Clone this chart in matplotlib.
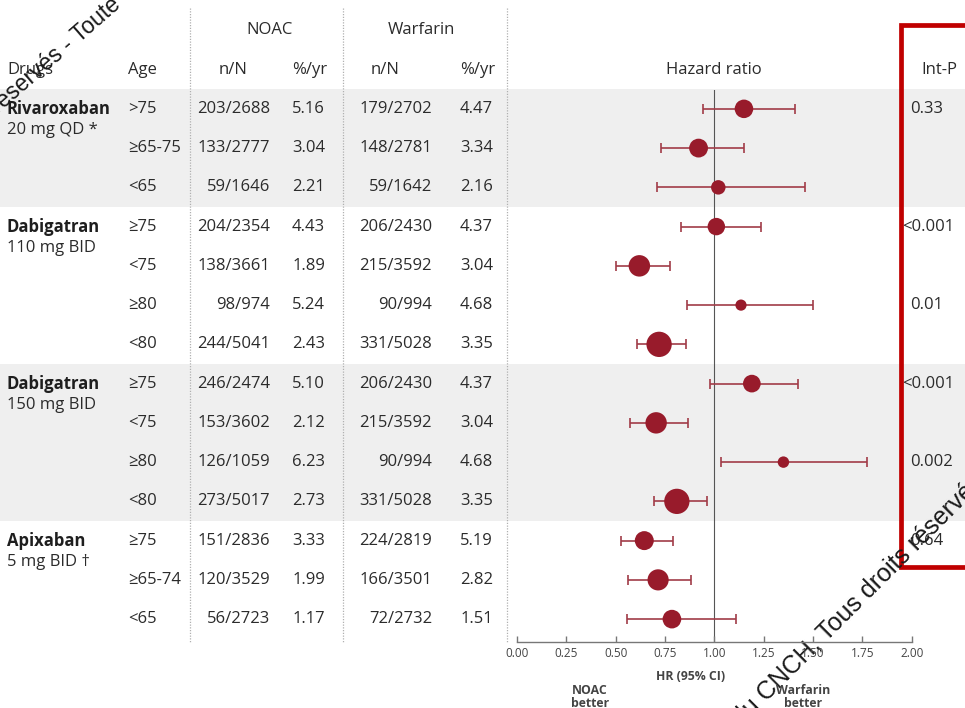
import matplotlib
matplotlib.use("Agg")
import matplotlib.pyplot as plt
from matplotlib import transforms
from matplotlib.patches import Rectangle

plt.rcParams['font.family'] = ['Open Sans', 'DejaVu Sans']

# data
drugs = ['Rivaroxaban', 'Dabigatran', 'Dabigatran', 'Apixaban']
doses = ['20 mg QD *', '110 mg BID', '150 mg BID', '5 mg BID †']
group_sizes = [3, 4, 4, 3]
ages = ['>75', '≥65-75', '<65', '≥75', '<75', '≥80', '<80',
        '≥75', '<75', '≥80', '<80', '≥75', '≥65-74', '<65']
noac_nN = ['203/2688', '133/2777', '59/1646', '204/2354', '138/3661', '98/974', '244/5041',
           '246/2474', '153/3602', '126/1059', '273/5017', '151/2836', '120/3529', '56/2723']
noac_rate = ['5.16', '3.04', '2.21', '4.43', '1.89', '5.24', '2.43',
             '5.10', '2.12', '6.23', '2.73', '3.33', '1.99', '1.17']
warf_nN = ['179/2702', '148/2781', '59/1642', '206/2430', '215/3592', '90/994', '331/5028',
           '206/2430', '215/3592', '90/994', '331/5028', '224/2819', '166/3501', '72/2732']
warf_rate = ['4.47', '3.34', '2.16', '4.37', '3.04', '4.68', '3.35',
             '4.37', '3.04', '4.68', '3.35', '5.19', '2.82', '1.51']
hr = [1.15, 0.92, 1.02, 1.01, 0.62, 1.135, 0.72, 1.19, 0.705, 1.35, 0.81, 0.645, 0.715, 0.785]
hr_lo = [0.94, 0.73, 0.71, 0.83, 0.50, 0.86, 0.61, 0.98, 0.575, 1.035, 0.695, 0.525, 0.56, 0.555]
hr_hi = [1.41, 1.15, 1.46, 1.235, 0.775, 1.50, 0.855, 1.425, 0.865, 1.775, 0.965, 0.79, 0.88, 1.11]
int_p = ['0.33', '', '', '<0.001', '', '0.01', '', '<0.001', '', '0.002', '', '0.64', '', '']
hr_ticks = [0.0, 0.25, 0.5, 0.75, 1.0, 1.25, 1.5, 1.75, 2.0]

W, H = 965, 708
TXT = '#2b2b2b'
RED = '#981b2b'

fig = plt.figure(figsize=(W / 100, H / 100), dpi=100)

# background axes in pixel units for the table part
bg = fig.add_axes([0, 0, 1, 1])
bg.set_xlim(0, W)
bg.set_ylim(H, 0)
bg.axis('off')

# forest plot axes
x0, x1 = 517, 911.7
top, bot = 90, 641.5
ax = fig.add_axes([x0 / W, 1 - bot / H, (x1 - x0) / W, (bot - top) / H])
ax.patch.set_alpha(0)
n_rows = len(ages)
ax.set_xlim(0, 2)
ax.set_ylim(13.57, -0.48)
rows = list(range(n_rows))

row_tr = transforms.blended_transform_factory(bg.transData, ax.transData)

# grey bands behind Rivaroxaban and Dabigatran 150
start = 0
for g, size in enumerate(group_sizes):
    if g % 2 == 0:
        bg.add_patch(Rectangle((0, start - 0.5), W, size, transform=row_tr,
                               facecolor='#efefef', edgecolor='none', zorder=0))
    start += size

# dotted column separators
bg.vlines([190, 343, 507], 8, 643, colors='#b0b0b0', linestyles=(0, (1, 1.2)), lw=0.9, zorder=1)

# headers
fs = 12
bg.text(270, 30, 'NOAC', ha='center', va='center', fontsize=fs, color=TXT)
bg.text(421, 30, 'Warfarin', ha='center', va='center', fontsize=fs, color=TXT)
bg.text(7, 70, 'Drugs', ha='left', va='center', fontsize=fs, color=TXT)
bg.text(128, 70, 'Age', ha='left', va='center', fontsize=fs, color=TXT)
bg.text(233, 70, 'n/N', ha='center', va='center', fontsize=fs, color=TXT)
bg.text(310, 70, '%/yr', ha='center', va='center', fontsize=fs, color=TXT)
bg.text(385, 70, 'n/N', ha='center', va='center', fontsize=fs, color=TXT)
bg.text(478, 70, '%/yr', ha='center', va='center', fontsize=fs, color=TXT)
bg.text(714, 70, 'Hazard ratio', ha='center', va='center', fontsize=fs, color=TXT)
bg.text(921, 70, 'Int-P', ha='left', va='center', fontsize=fs, color=TXT)

# drug names
start = 0
for name, dose, size in zip(drugs, doses, group_sizes):
    bg.text(7, start, name, transform=row_tr, ha='left', va='center',
            fontsize=fs, fontweight='bold', color='#1e1e1e')
    bg.text(7, start + 0.55, dose, transform=row_tr, ha='left', va='center',
            fontsize=fs, color=TXT)
    start += size

# table rows
for r in rows:
    bg.text(128, r, ages[r], transform=row_tr, ha='left', va='center', fontsize=fs, color=TXT)
    bg.text(270, r, noac_nN[r], transform=row_tr, ha='right', va='center', fontsize=fs, color=TXT)
    bg.text(325, r, noac_rate[r], transform=row_tr, ha='right', va='center', fontsize=fs, color=TXT)
    bg.text(432, r, warf_nN[r], transform=row_tr, ha='right', va='center', fontsize=fs, color=TXT)
    bg.text(493, r, warf_rate[r], transform=row_tr, ha='right', va='center', fontsize=fs, color=TXT)
    if int_p[r]:
        xp = 902 if int_p[r].startswith('<') else 910
        bg.text(xp, r, int_p[r], transform=row_tr, ha='left', va='center', fontsize=fs, color=TXT)

# red box around Int-P
bg.plot([980, 901, 901, 980], [25, 25, 567, 567], color='#c00000', lw=3.4,
        solid_joinstyle='miter', zorder=3)

# forest plot
ax.axvline(1.0, color='#555555', lw=0.8, zorder=1)
err_lo = [h - l for h, l in zip(hr, hr_lo)]
err_hi = [u - h for h, u in zip(hr, hr_hi)]
ax.errorbar(hr, rows, xerr=[err_lo, err_hi], fmt='none', ecolor='#a13c48',
            elinewidth=1.2, capsize=3.5, capthick=1.2, zorder=2)
total_n = [int(a.split('/')[1]) + int(b.split('/')[1]) for a, b in zip(noac_nN, warf_nN)]
ax.scatter(hr, rows, s=[n * 0.033 for n in total_n], color=RED, edgecolors='none',
           zorder=3, clip_on=False)

for side in ['top', 'right', 'left']:
    ax.spines[side].set_visible(False)
ax.spines['bottom'].set_color('#777777')
ax.spines['bottom'].set_linewidth(1.0)
ax.set_yticks([])
ax.set_xticks(hr_ticks)
ax.set_xticklabels([f'{t:.2f}' for t in hr_ticks])
ax.tick_params(axis='x', direction='in', length=4, width=1.0, color='#777777',
               labelsize=8.5, labelcolor='#444444', pad=4)

lab_tr = transforms.blended_transform_factory(ax.transData, bg.transData)
ax.text(0.877, 677, 'HR (95% CI)', transform=lab_tr, ha='center', va='center',
        fontsize=8.8, fontweight='bold', color='#444444')
ax.text(0.37, 697, 'NOAC\nbetter', transform=lab_tr, ha='center', va='center',
        fontsize=8.8, fontweight='bold', color='#444444', linespacing=0.95)
ax.text(1.45, 697, 'Warfarin\nbetter', transform=lab_tr, ha='center', va='center',
        fontsize=8.8, fontweight='bold', color='#444444', linespacing=0.95)

# watermark fragments
bg.text(-2, 114, 'réservés - Toute', rotation=41, rotation_mode='anchor',
        ha='left', va='baseline', fontsize=16.5, color='#1a1a1a',
        family=['Liberation Sans', 'DejaVu Sans'], zorder=5, clip_on=True)
bg.text(742, 727, 'du CNCH, Tous droits réservés', rotation=45, rotation_mode='anchor',
        ha='left', va='baseline', fontsize=18, color='#1a1a1a',
        family=['Liberation Sans', 'DejaVu Sans'], zorder=5, clip_on=True)

fig.savefig('out.png', dpi=100)
